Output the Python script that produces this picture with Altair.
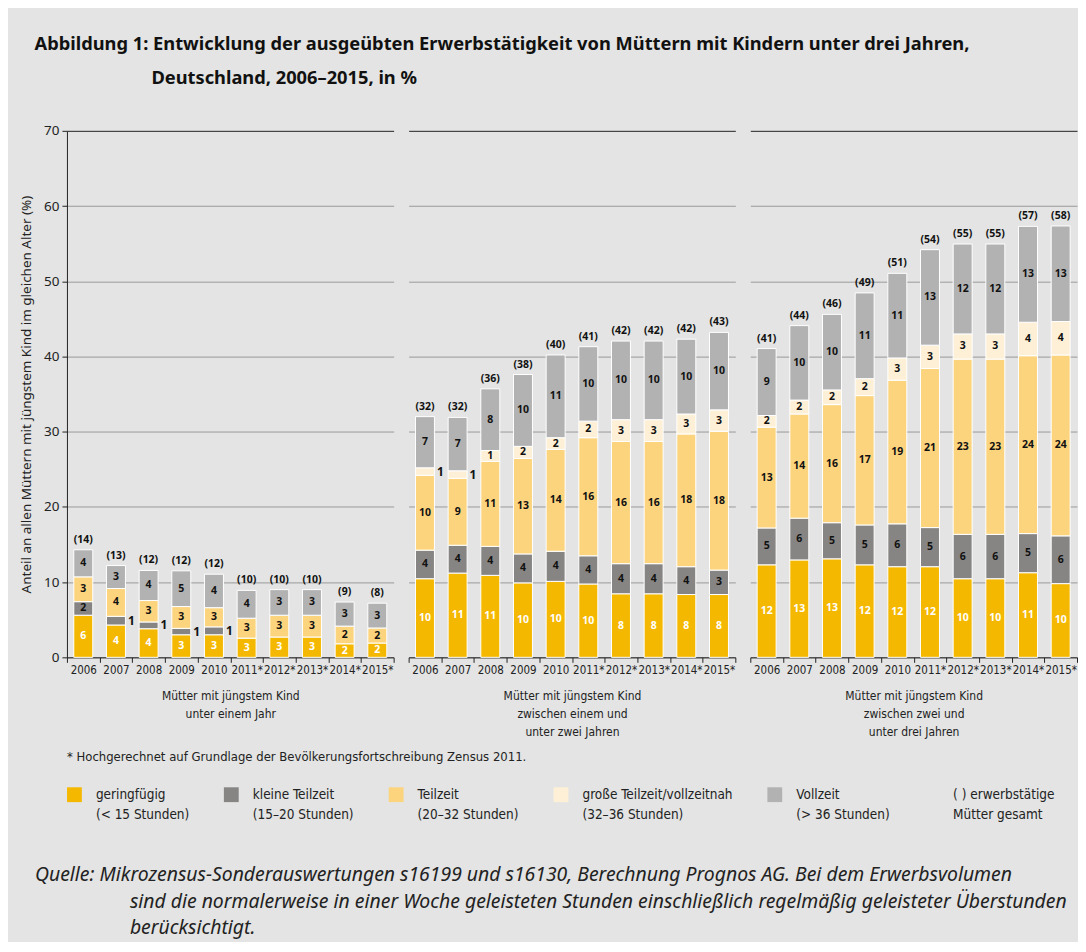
import altair as alt
import pandas as pd

years = ["2006", "2007", "2008", "2009", "2010", "2011*", "2012*", "2013*", "2014*", "2015*"]
group_ids = ["g1", "g2", "g3"]
group_titles = [
    ["Mütter mit jüngstem Kind", "unter einem Jahr"],
    ["Mütter mit jüngstem Kind", "zwischen einem und", "unter zwei Jahren"],
    ["Mütter mit jüngstem Kind", "zwischen zwei und", "unter drei Jahren"],
]
categories = [
    "geringfügig|(< 15 Stunden)",
    "kleine Teilzeit|(15–20 Stunden)",
    "Teilzeit|(20–32 Stunden)",
    "große Teilzeit/vollzeitnah|(32–36 Stunden)",
    "Vollzeit|(> 36 Stunden)",
]
legend_extra = "( ) erwerbstätige|Mütter gesamt"
colors = ["#f5b800", "#878583", "#fcd47e", "#fef0d6", "#b2b2b2", "rgba(0,0,0,0)"]

# values per group: [geringfügig, kleine Teilzeit, Teilzeit, große Teilzeit, Vollzeit]
g1_gering = [5.6, 4.3, 3.8, 3.0, 3.0, 2.55, 2.7, 2.7, 1.8, 1.9]
g1_klein = [1.8, 1.15, 0.9, 0.85, 1.05, 0, 0, 0, 0, 0]
g1_teil = [3.3, 3.7, 2.85, 2.9, 2.55, 2.65, 2.9, 2.9, 2.35, 2.0]
g1_gross = [0, 0, 0, 0, 0, 0, 0, 0, 0, 0]
g1_voll = [3.6, 3.05, 4.0, 4.75, 4.45, 3.7, 3.4, 3.4, 3.2, 3.3]
g1_total = [14, 13, 12, 12, 12, 10, 10, 10, 9, 8]

g2_gering = [10.45, 11.2, 10.9, 9.9, 10.1, 9.75, 8.45, 8.45, 8.35, 8.35]
g2_klein = [3.8, 3.7, 3.85, 3.85, 4.0, 3.75, 4.0, 4.0, 3.7, 3.25]
g2_teil = [9.95, 8.9, 11.3, 12.7, 13.55, 15.7, 16.25, 16.25, 17.65, 18.45]
g2_gross = [1.0, 1.0, 1.45, 1.6, 1.55, 2.2, 2.9, 2.9, 2.65, 2.85]
g2_voll = [6.8, 7.1, 8.2, 9.55, 11.0, 9.9, 10.45, 10.45, 9.95, 10.3]
g2_total = [32, 32, 36, 38, 40, 41, 42, 42, 42, 43]

g3_gering = [12.3, 12.95, 13.1, 12.3, 12.05, 12.05, 10.45, 10.45, 11.25, 9.8]
g3_klein = [4.9, 5.55, 4.8, 5.3, 5.7, 5.2, 5.9, 5.9, 5.2, 6.35]
g3_teil = [13.4, 13.85, 15.7, 17.2, 19.1, 21.15, 23.3, 23.3, 23.65, 24.05]
g3_gross = [1.55, 1.85, 1.95, 2.25, 2.95, 3.1, 3.35, 3.35, 4.45, 4.45]
g3_voll = [8.9, 9.9, 10.05, 11.4, 11.25, 12.7, 11.95, 11.95, 12.75, 12.7]
g3_total = [41, 44, 46, 49, 51, 54, 55, 55, 57, 58]

series = {
    "g1": [g1_gering, g1_klein, g1_teil, g1_gross, g1_voll],
    "g2": [g2_gering, g2_klein, g2_teil, g2_gross, g2_voll],
    "g3": [g3_gering, g3_klein, g3_teil, g3_gross, g3_voll],
}
totals = {"g1": g1_total, "g2": g2_total, "g3": g3_total}

y_title = "Anteil an allen Müttern mit jüngstem Kind im gleichen Alter (%)"
title_line1 = "Abbildung 1: Entwicklung der ausgeübten Erwerbstätigkeit von Müttern mit Kindern unter drei Jahren,"
title_line2 = "Deutschland, 2006–2015, in %"
footnote = "* Hochgerechnet auf Grundlage der Bevölkerungsfortschreibung Zensus 2011."
source_lines = [
    "Quelle: Mikrozensus-Sonderauswertungen s16199 und s16130, Berechnung Prognos AG. Bei dem Erwerbsvolumen",
    "sind die normalerweise in einer Woche geleisteten Stunden einschließlich regelmäßig geleisteter Überstunden",
    "berücksichtigt.",
]
source_indent = [0, 1, 1]

rows = []
tot_rows = []
for g in group_ids:
    for yi, yr in enumerate(years):
        s = 0.0
        for ci, cat in enumerate(categories):
            v = series[g][ci][yi]
            s += v
            if v > 0:
                rows.append(dict(group=g, year=yr, cat=cat, order=ci, value=v))
        tot_rows.append(dict(group=g, year=yr, top=s, label=f"({totals[g][yi]})"))
df = pd.DataFrame(rows)
tdf = pd.DataFrame(tot_rows)
sdf = pd.DataFrame({"line": list(range(len(source_lines))), "text": source_lines, "indent": source_indent})

NARROW = "'DejaVu Sans Condensed', 'Roboto Condensed', Roboto, sans-serif"
SANS = "Noto Sans"
PW, PH = 327, 527

color_enc = alt.Color(
    "cat:N",
    scale=alt.Scale(domain=categories + [legend_extra], range=colors),
    legend=alt.Legend(
        orient="none", direction="horizontal", legendX=0, legendY=621,
        title=footnote, titleFontWeight="normal", titleFont=NARROW, titleFontSize=13,
        titleColor="#222", titlePadding=23, titleLimit=1000, titleAnchor="start",
        labelExpr="split(datum.label, '|')", labelFont=NARROW, labelFontSize=13.5,
        labelColor="#222", labelLimit=400, symbolType="square", symbolSize=220,
        symbolStrokeWidth=0, symbolOpacity=1, columnPadding=34, labelOffset=14,
    ),
)

grid_color = {"condition": {"test": "datum.value >= 70", "value": "#222222"}, "value": "#9a9a9a"}


def panel(i):
    g = group_ids[i]
    first = i == 0
    if first:
        yaxis = alt.Axis(title=y_title, values=list(range(0, 71, 10)), grid=True, gridColor=grid_color,
                         domainColor="#222", tickColor="#222", labelFont=SANS, labelFontSize=13.5,
                         labelColor="#222", titleFont=SANS, titleFontSize=13.5, titleFontWeight="normal",
                         titleColor="#222", titlePadding=10, tickSize=5, labelPadding=3)
    else:
        yaxis = alt.Axis(title=None, values=list(range(0, 71, 10)), grid=True, gridColor=grid_color,
                         labels=False, ticks=False, domain=False)
    x = alt.X("year:N", sort=years, scale=alt.Scale(paddingInner=0, paddingOuter=0),
              axis=alt.Axis(title=group_titles[i], labelAngle=0, tickBand="extent", domainColor="#222",
                            tickColor="#222", tickSize=5, labelFont=NARROW, labelFontSize=11.5,
                            labelColor="#222", labelPadding=2, titleFont=NARROW, titleFontSize=12,
                            titleFontWeight="normal", titleColor="#222", titlePadding=15,
                            titleLineHeight=18))
    y_scale = alt.Scale(domain=[0, 70], nice=False)
    base = alt.Chart(df).transform_filter(alt.datum.group == g)
    bars = base.mark_bar(size=19, stroke="white", strokeWidth=1).encode(
        x=x,
        y=alt.Y("value:Q", stack="zero", scale=y_scale, axis=yaxis),
        color=color_enc,
        order=alt.Order("order:Q"),
    )
    stacked = base.transform_stack(
        stack="value", as_=["y0", "y1"], groupby=["year"], sort=[alt.SortField("order")]
    ).transform_calculate(mid="(datum.y0 + datum.y1) / 2")
    txt_color = alt.condition(alt.datum.order == 0, alt.value("white"), alt.value("#111"))
    inside = stacked.transform_filter(alt.datum.value >= 1.3).mark_text(
        font=SANS, fontSize=10.5, fontWeight="bold", baseline="middle"
    ).encode(
        x=alt.X("year:N", sort=years),
        y=alt.Y("mid:Q", scale=y_scale),
        text=alt.Text("value:Q", format=".0f"),
        color=txt_color,
    )
    outside = stacked.transform_filter(alt.datum.value < 1.3).mark_text(
        font=SANS, fontSize=12, fontWeight="bold", baseline="middle", align="left", dx=12
    ).encode(
        x=alt.X("year:N", sort=years),
        y=alt.Y("mid:Q", scale=y_scale),
        text=alt.Text("value:Q", format=".0f"),
        color=alt.value("#111"),
    )
    tot = alt.Chart(tdf).transform_filter(alt.datum.group == g).mark_text(
        font=SANS, fontSize=10.5, fontWeight="bold", baseline="bottom", dy=-5, color="#111"
    ).encode(
        x=alt.X("year:N", sort=years),
        y=alt.Y("top:Q", scale=y_scale),
        text="label:N",
    )
    return alt.layer(bars, inside, outside, tot).properties(width=PW, height=PH)


panels = alt.hconcat(*[panel(i) for i in range(3)], spacing=13).properties(
    title=alt.TitleParams(
        text=title_line2, anchor="start", frame="bounds", font=SANS, fontSize=18.3,
        fontWeight="bold", color="#111", offset=36, dx=132,
    )
)

source = alt.Chart(sdf).mark_text(
    align="left", baseline="middle", font=SANS, fontStyle="italic", fontSize=19.4, color="#222"
).encode(
    x=alt.X("indent:Q", scale=alt.Scale(domain=[0, 1], range=[-32, 63]), axis=None),
    y=alt.Y("line:O", scale=alt.Scale(padding=0), axis=None),
    text="text:N",
).properties(width=100, height=53)

chart = alt.vconcat(panels, source, spacing=127).properties(
    title=alt.TitleParams(
        text=title_line1, anchor="start", frame="bounds", font=SANS, fontSize=18.3,
        fontWeight="bold", color="#111", offset=14.5, dx=15,
    ),
    padding={"left": 11, "top": 25.5, "right": 0, "bottom": 3},
).configure(
    background="#e3e4e3", style={"guide-label": {"lineHeight": 20}}
).configure_view(strokeWidth=0)

chart.save("out.html", embed_options={"renderer": "svg", "actions": False})
